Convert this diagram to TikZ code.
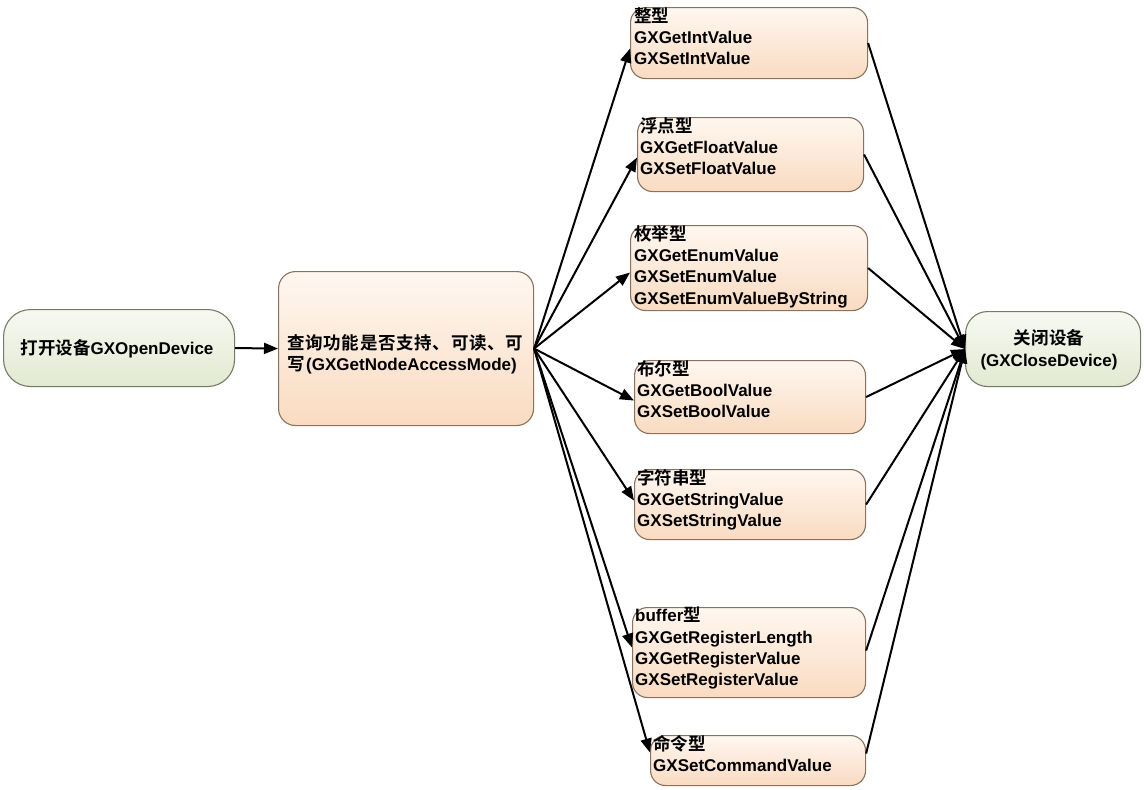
\documentclass[tikz,border=0pt]{standalone}
\usepackage{fontspec}
\setmainfont{Liberation Sans}
\newfontfamily\latb{Liberation Sans Bold}
\newfontfamily\cjkfont{Noto Sans CJK SC Bold}[Scale=1.03]
\newfontfamily\cjkls{Noto Sans CJK SC Bold}[Scale=1.03,LetterSpace=4]
\usetikzlibrary{arrows.meta}
\newcommand{\zh}[1]{{\cjkfont #1}}
\definecolor{pkA}{HTML}{FFF7F0}
\definecolor{pkB}{HTML}{F9DBC1}
\definecolor{pkD}{HTML}{8A725E}
\definecolor{grA}{HTML}{F7F9F1}
\definecolor{grB}{HTML}{E2E9D2}
\definecolor{grD}{HTML}{747C66}
\tikzset{
  pbox/.style={draw=pkD, line width=1.1pt, rounded corners=15pt, top color=pkA, bottom color=pkB, anchor=north west, inner sep=0pt},
  gbox/.style={draw=grD, line width=1.1pt, rounded corners=22pt, top color=grA, bottom color=grB, anchor=north west, inner sep=0pt},
  btext/.style={anchor=north west, inner sep=0pt, align=left, font=\latb\fontsize{17}{21.3}\selectfont},
  arr/.style={draw=black, line width=2pt, -{Triangle[length=14pt,width=11pt]}},
}
\newcommand{\fst}{\rule{0pt}{14.5pt}}
\begin{document}
\begin{tikzpicture}[x=1pt,y=-1pt]
\useasboundingbox (0,0) rectangle (1144,790);
% boxes
\node[gbox, rounded corners=27pt, minimum width=231pt, minimum height=77pt] (open) at (3,309) {};
\node[pbox, rounded corners=17pt, minimum width=255pt, minimum height=154pt] (query) at (278,271) {};
\node[pbox, minimum width=237pt, minimum height=71pt] (b1) at (630,7) {};
\node[pbox, minimum width=226pt, minimum height=74pt] (b2) at (637,117) {};
\node[pbox, minimum width=237pt, minimum height=85pt] (b3) at (630,225) {};
\node[pbox, minimum width=231pt, minimum height=73pt] (b4) at (634,360) {};
\node[pbox, minimum width=231pt, minimum height=70pt] (b5) at (634,469) {};
\node[pbox, minimum width=233pt, minimum height=90pt] (b6) at (632,607) {};
\node[pbox, minimum width=215pt, minimum height=50pt] (b7) at (650,735) {};
\node[gbox, minimum width=175pt, minimum height=75pt] (close) at (965,311) {};
% texts
\node[anchor=base, inner sep=0pt, font=\latb\fontsize{17}{21}\selectfont] (topen) at (117,354) {\zh{打开设备}GXOpenDevice};
\node[btext] (tquery) at (287,334) {\fst{\cjkls 查询功能是否支持、可读、可}\\\zh{写}\kern1.5pt(GXGetNodeAccessMode)};
\node[btext] (t1) at (634,7) {\fst\zh{整型}\\GXGetIntValue\\GXSetIntValue};
\node[btext] (t2) at (640,117) {\fst\zh{浮点型}\\GXGetFloatValue\\GXSetFloatValue};
\node[btext] (t3) at (634,225) {\fst\zh{枚举型}\\GXGetEnumValue\\GXSetEnumValue\\GXSetEnumValueByString};
\node[btext] (t4) at (637,360) {\fst\zh{布尔型}\\GXGetBoolValue\\GXSetBoolValue};
\node[btext] (t5) at (637,469) {\fst\zh{字符串型}\\GXGetStringValue\\GXSetStringValue};
\node[btext] (t6) at (635,607) {\fst buffer\zh{型}\\GXGetRegisterLength\\GXGetRegisterValue\\GXSetRegisterValue};
\node[btext] (t7) at (653,735) {\fst\zh{命令型}\\GXSetCommandValue};
\node[anchor=north, inner sep=0pt, align=center, font=\latb\fontsize{17}{22.5}\selectfont] (tclose) at (1049,329) {\fst\zh{关闭设备}\\(GXCloseDevice)};
% connectors
\draw[arr] (open.east) -- (query.west);
\draw[arr] (query.east) -- ([yshift=-5.5pt]b1.west);
\draw[arr] (query.east) -- ([yshift=-3pt]b2.west);
\draw[arr] (query.east) -- ([yshift=-4.5pt]b3.west);
\draw[arr] (query.east) -- ([yshift=-3.5pt]b4.west);
\draw[arr] (query.east) -- ([yshift=4pt]b5.west);
\draw[arr] (query.east) -- ([yshift=5pt]b6.west);
\draw[arr] (query.east) -- ([yshift=8pt]b7.west);
\draw[arr] (b1.east) -- (close.west);
\draw[arr] (b2.east) -- (close.west);
\draw[arr] (b3.east) -- (close.west);
\draw[arr] (b4.east) -- (close.west);
\draw[arr] (b5.east) -- (close.west);
\draw[arr] ([yshift=2pt]b6.east) -- (close.west);
\draw[arr] ([yshift=7pt]b7.east) -- (close.west);
\end{tikzpicture}
\end{document}
